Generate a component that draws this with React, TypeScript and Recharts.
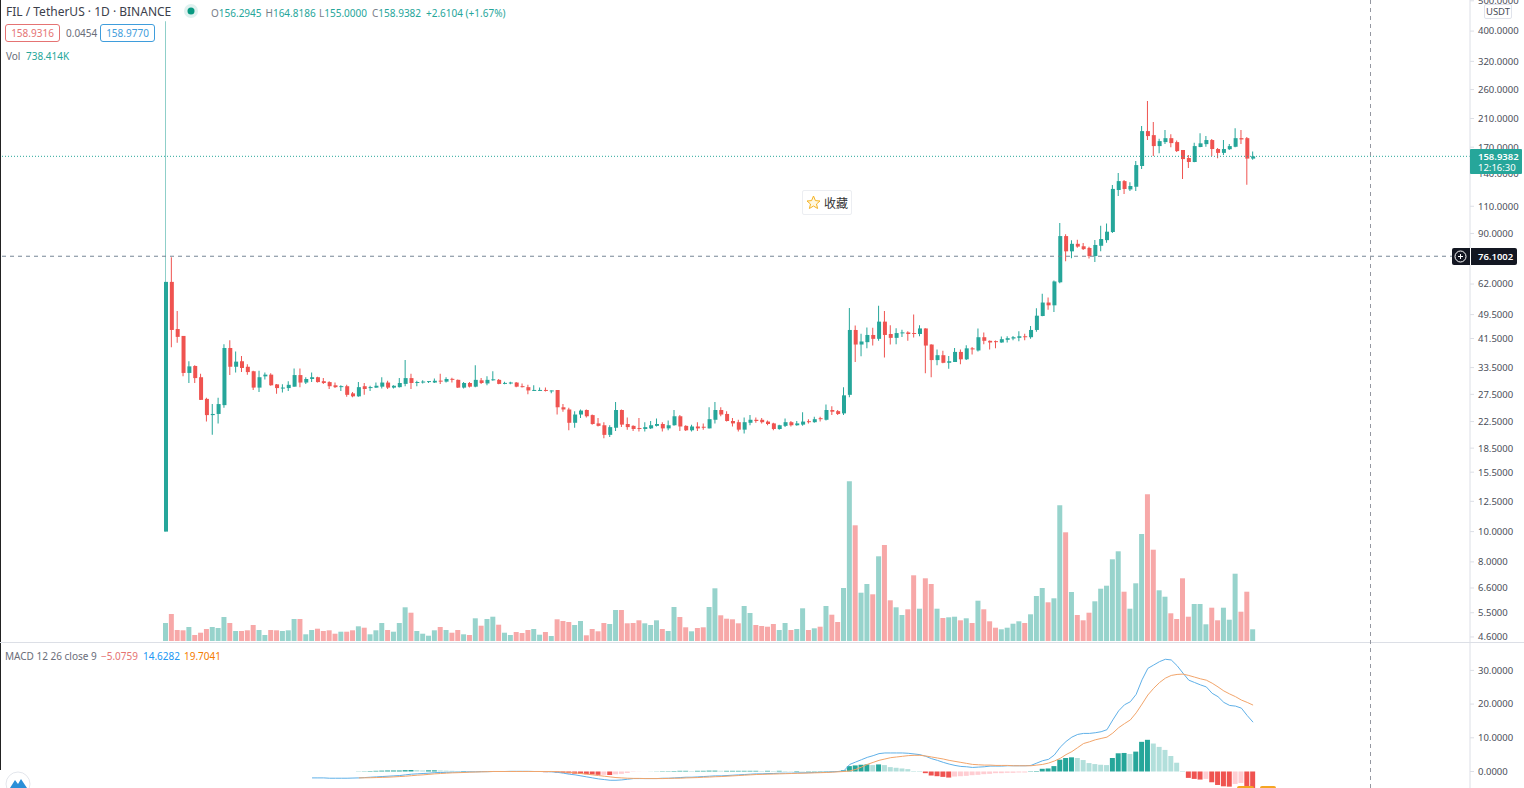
import { Bar, Cell, ComposedChart, Line, ReferenceLine, XAxis, YAxis } from "recharts";

const opens = [
  10,63,44.5,42.3,32.2,33.9,31.2,26.6,23.6,23.8,
  25.4,38.7,33.7,35.1,33.7,32.6,28.9,31.4,31.8,29.6,
  28.7,28.8,29.1,31.7,30,30.8,31.2,30.3,30.1,29.4,
  29,29.2,27.7,27.1,29.2,28.8,28.9,29.1,30,28.9,
  29,29.7,31,29.9,30,30.1,30,30.3,30.2,30.7,
  30.6,28.9,29.9,29.1,30.5,29.8,30.5,30.6,29.7,29.8,
  30,29.2,29,28.2,28.2,28.4,28.1,28.4,25,24.6,
  22.3,23.7,24.5,23.6,22.2,21.9,20.4,21.5,24.5,22.1,
  21.8,21.4,21.3,21.4,21.8,22.1,21.4,21.9,23.4,21.8,
  21.1,21.7,21.6,21.4,22.8,24.5,23.8,22.6,22.4,21.2,
  22.3,22.8,22.8,22.5,22.2,21.3,21.8,22.4,21.9,22,
  22.5,22.4,23,22.8,24.5,24.3,23.9,27.4,44.2,39.7,
  40.4,42.6,41.4,47,42.9,41.7,43.1,43.4,43.1,42.9,
  44.7,39.7,35.4,36.7,34.7,34.9,37.6,35.6,38.6,38,
  41.9,40.8,40.6,40.3,41.1,41.5,41.7,42.2,41.9,44.2,
  49,54.1,53,62.8,88.3,78.9,83.4,81.9,80.9,76.2,
  82.2,85.7,91,124,132.4,124.5,127,148,191.4,185.8,
  171.4,176.5,181.7,176.5,166.5,157,152.4,170.2,173.9,179.2,
  167.7,163,167.5,170.5,181.7,181.7,156.29,
];

const closes = [
  63,44.2,42,32.2,33.8,31,26.4,23.6,23.8,25.6,
  38.7,33.7,35,33.4,32.4,28.9,31.2,31.8,29.4,28.8,
  28.9,29.5,31.7,30,30.8,31.2,30.1,29.9,29.2,29,
  29.2,27.4,27.1,29,28.6,29,29.3,30,28.9,29.3,
  29.9,31,29.9,30.1,30.2,30.2,30.4,30.2,30.8,30.6,
  28.9,29.9,29.1,30.6,29.9,30.6,30.6,29.7,29.9,30,
  29.1,29,28.3,28.4,28.4,28.2,28.3,25,24.6,22.3,
  23.7,24.4,23.4,22.1,21.8,20.4,21.6,24.5,22,21.6,
  21.3,21.3,21.6,21.9,22.1,21.4,21.9,23.4,21.7,21.1,
  21.7,21.4,21.5,22.9,24.5,23.7,22.6,22.2,21.2,22.4,
  22.8,22.6,22.4,22.1,21.3,21.9,22.4,21.9,22.2,22.5,
  22.4,22.9,22.9,24.5,24.2,23.8,27.3,44.2,39.7,40.6,
  42.6,41.4,47,42.6,41.7,43.2,43.4,42.9,42.9,44.7,
  39.4,35.4,36.7,34.7,35.1,37.6,35.6,38.6,38.3,41.9,
  40.8,40.3,40.4,41.3,41.6,41.9,42.2,41.9,44.2,49.1,
  54.1,53,63.2,88.3,78.9,83.4,81.7,80.2,76.2,82.7,
  86.4,91.2,125,132.4,124.9,127.7,149,191.4,184.5,171.4,
  177.8,181.7,175.2,165.2,155.7,152.4,171.4,174.9,179.2,167.7,
  163,167.7,171.4,181.7,180,156.3,158.94,
];

const highs = [
  430,75.5,50.8,42.3,35.1,34.1,32,26.8,25.6,26.8,
  39.8,41,37.7,36.5,34.3,32.7,32.7,32.3,32.1,29.7,
  29.6,30.3,33.3,33.3,31.2,32.3,31.3,31,30.3,30,
  29.4,29.5,28,30.1,29.9,29.3,30,31.2,30.4,29.4,
  31,35.4,32,30.4,30.5,30.3,30.9,32,31.2,31.1,
  30.7,30.1,30.1,34.1,31,31.4,32.6,30.8,30.2,30.2,
  30.1,29.8,29.5,29.4,28.9,28.9,28.3,28.4,25.6,24.9,
  24.3,24.6,24.6,23.7,23.1,22.4,21.9,26,24.6,23.2,
  21.9,23.1,22.4,22.6,23,22.4,22.7,24.5,23.6,21.9,
  22,22.4,22.2,25,26,25,24.3,23.1,22.8,23.2,
  23.6,23.2,23.1,22.7,22.3,22,23,22.6,22.6,24.1,
  22.9,23.3,23.3,25.5,25.2,24.5,29,52,45.7,43,
  45,44.9,52.8,50.8,45.8,44.8,44.3,43.8,49.5,45.8,
  44.8,39.8,38.3,37.9,36.5,38.7,38.3,39.5,39,44.7,
  43.4,40.9,40.9,42.1,42.2,42.3,43.8,43,45.5,51.9,
  57.7,56.1,63.7,97.2,89.5,85.6,86,83.9,81.6,85.7,
  95.2,96.8,128.6,140.5,133.4,131.4,153.5,198.6,238.8,204.6,
  181,192.9,187,178.5,166.6,160.4,175.8,188.5,184.5,180.5,
  169,179.2,174,195.5,192.9,183.2,164.82,
];

const lows = [
  10,38.9,40.2,31.4,29.9,29.9,26.4,22.5,20.4,22.2,
  24.9,31.7,32.3,32.4,31.8,28.4,28,30.7,29.3,27.6,
  27.9,28.2,29.1,29,29.7,30.1,30,29.7,28.6,28.8,
  28.2,27,26.9,27,27.4,28.2,28.8,28.7,28.6,28.7,
  28.9,29.2,28.6,29.2,29.8,29.9,29.9,29.7,30,30,
  28.8,28.7,28.9,29,29.7,29.4,30.4,29.6,29.6,29.6,
  29,28.9,27.5,28.2,28.2,28.1,27.7,23.7,24.2,21.1,
  21.5,23.1,23.2,22,21.7,19.9,20.1,21,21.6,21.2,
  21,20.9,20.9,21.3,21.7,20.9,21.1,21.8,21,21,
  20.9,21,21.2,21.4,22.2,23.4,22.5,21.7,20.9,20.6,
  21.9,22.3,22.2,21.9,21.1,21.2,21.6,21.7,21.8,21.8,
  22.2,22.3,22.5,22.7,23.6,23.6,23.6,26.9,34.9,36.4,
  38.6,39.4,40.8,36.1,39.7,39.8,42,40.8,41.8,42.2,
  32.1,31.2,34.1,34.6,33.2,34.9,34.3,35.4,36.9,37.7,
  39.8,38.3,38.6,40.2,40.3,41,40.7,41,41.4,43.6,
  48.9,51.3,50.5,62.4,73.4,75,81,79.7,74.9,72.9,
  79,84,90.3,118.6,120.3,123,123,144.7,179.2,159.2,
  162.6,173.9,170,164,134.4,145.7,152,170,170.5,159.2,
  156.8,160.4,166.5,170,173.9,128.8,155,
];

// thousands of FIL
const volumes = [
  1134,1701,693,674,882,378,523,756,882,819,
  1512,1134,630,630,674,1008,693,378,693,674,
  630,674,1386,1386,422,693,775,630,674,460,
  586,586,674,926,838,422,674,1134,693,586,
  1134,2123,1783,630,460,334,674,882,693,523,
  693,422,378,1430,964,1386,1531,1027,523,378,
  567,504,693,756,397,567,315,1367,1260,1197,
  1008,1260,359,756,611,1134,1071,1953,1953,1115,
  1134,1304,1115,1008,1304,756,630,2142,1512,863,
  611,819,863,2142,3320,1619,1405,1367,1115,2205,
  1764,1008,945,901,1071,693,1134,693,756,2060,
  693,800,901,2205,1657,1197,3339,10070,7289,3043,
  3591,2942,5336,6048,2564,2123,1638,1997,4139,2035,
  3950,3591,2035,1449,1493,1531,1304,1430,1134,2539,
  1997,1241,838,737,838,1090,1241,1134,1682,2835,
  3339,2438,2690,8549,6848,3087,1638,1304,1783,2501,
  3295,3484,5147,5651,3106,2035,3635,6741,9242,5752,
  3194,2791,1745,1386,3950,1531,2331,2331,1052,2098,
  1304,2098,1342,4240,1846,3106,738,
];

const macdStart = 25;
const macdValues = [
  -1.9,-1.9,-1.9,-2,-2,-2,-2,-1.95,-1.9,
  -1.8,-1.7,-1.6,-1.5,-1.4,-1.3,-1.2,-1,-0.8,-0.7,-0.6,-0.5,-0.35,
  -0.3,-0.25,-0.2,-0.2,-0.15,-0.1,-0.1,-0.05,-0.05,0,0,0,0.05,0.05,
  0.05,0.05,0,0,-0.05,-0.1,-0.25,-0.5,-0.8,-1,-1.3,-1.6,-1.9,-2.2,-2.4,-2.6,
  -2.6,-2.5,-2.3,-2.1,-2.1,-2.1,-2.1,-2.1,-2,-2,-1.9,-1.8,-1.7,-1.7,-1.6,-1.5,
  -1.4,-1.3,-1.3,-1.2,-1.1,-1,-0.9,-0.8,-0.7,-0.7,-0.6,-0.6,-0.5,-0.5,-0.5,-0.4,-0.4,
  -0.35,-0.3,-0.25,-0.2,-0.1,0,
  0.2,2.1,2.8,3.5,4.2,4.7,5.3,5.5,5.5,5.5,
  5.5,5.4,5.2,5,4.5,3.8,3.3,2.7,2.2,1.8,
  1.5,1.4,1.2,1.3,1.4,1.6,1.6,1.6,1.7,1.7,
  1.7,1.7,1.8,2.5,3.2,3.6,4.9,7.2,8.9,10.2,
  11,11.3,11.3,11.5,11.8,12.4,15.3,18,19.8,20.7,
  22.9,27.2,30.6,31.6,32.6,33.3,33.1,31.4,29.2,27.1,
  26.4,25.7,25.1,23.2,22.2,20.5,19.6,19.4,18.8,16.6,14.63,
];

const signalStart = 33;
const signalValues = [
  -1.9,-1.88,-1.85,-1.8,-1.75,-1.7,-1.6,-1.5,-1.4,-1.25,-1.1,-1,-0.85,-0.7,
  -0.6,-0.5,-0.4,-0.35,-0.3,-0.2,-0.15,-0.1,-0.05,0,0,0,0,0,
  0,0,0,0,0,0,-0.05,-0.15,-0.25,-0.4,-0.6,-0.8,-1,-1.2,-1.4,-1.6,
  -1.8,-1.9,-2,-2.05,-2.05,-2.1,-2.1,-2.1,-2.1,-2.05,-2,-2,-1.9,-1.85,-1.8,-1.7,
  -1.65,-1.55,-1.5,-1.4,-1.3,-1.2,-1.1,-1,-0.9,-0.85,-0.8,-0.75,-0.7,-0.65,-0.6,-0.55,-0.5,
  -0.45,-0.4,-0.35,-0.3,-0.2,-0.1,
  0,0.15,0.6,1.3,2.1,2.7,3.3,3.7,4.1,4.3,
  4.5,4.7,4.8,4.8,4.6,4.3,4,3.7,3.3,3,
  2.7,2.4,2.1,2,1.9,1.9,1.8,1.8,1.8,1.7,
  1.7,1.7,1.7,1.9,2.1,2.5,3.1,3.9,5,5.9,
  7.1,8.3,8.8,9.4,9.8,10.2,11.4,13,14.2,15.3,
  17.4,20,22.7,24.7,26.4,27.7,28.5,28.8,28.9,28.5,
  28,27.5,27.1,26.2,25.1,23.9,23,22.2,21.2,20.5,19.7,
];

const histValues = [
  0.05,0.08,0.15,0.2,0.25,0.3,0.3,0.3,0.4,0.45,0.4,0.3,0.35,0.35,
  0.3,0.25,0.2,0.15,0.15,0.1,0.05,0.05,0.05,0.05,0.05,0.05,0.05,
  -0.05,-0.1,-0.1,-0.1,-0.15,-0.2,-0.2,-0.3,-0.4,-0.55,-0.65,
  -0.7,-0.8,-0.9,-1,-1,-1.05,-0.85,-0.7,-0.45,-0.1,-0.05,-0.02,
  0.02,0.05,0.1,0.1,0.15,0.2,0.2,0.15,0.2,0.2,
  0.25,0.25,0.2,0.2,0.2,0.2,0.2,0.2,0.2,
  0.15,0.2,0.15,0.2,0.15,0.1,0.15,0.1,0.1,0.1,0.1,0.1,0.1,0.15,
  0.35,1.6,1.8,2,2.1,1.9,2.1,1.9,1.3,1.1,
  0.9,0.7,0.15,0.14,-0.5,-1.2,-1.4,-1.6,-1.8,-1.5,
  -1.4,-1.3,-1.1,-1,-0.8,-0.7,-0.5,-0.5,-0.4,-0.4,
  -0.3,-0.3,0.1,0.15,0.8,0.9,1.6,3.5,4,4.2,
  4,3.4,2.5,2.2,2,1.9,4,5.4,5.5,5.2,
  5.9,8.8,9.4,8.3,7.3,6.4,4.6,2.6,0.15,-1.9,
  -2.2,-2.4,-2.2,-3.2,-4,-4.4,-4.5,-3.7,-3.4,-4.5,-5.08,
];

const priceTicks = [500,400,320,260,210,170,140,110,90,62,49.5,41.5,33.5,27.5,22.5,18.5,15.5,12.5,10,8,6.6,5.5,4.6];
const macdTicks = [30,20,10,0];
const lastPrice = 158.9382;
const crosshairPrice = 76.1002;

const UP = "#26a69a";
const DOWN = "#ef5350";
const AXIS = "#dcdfe6";
const TEXT = "#4a4e59";
const MUTED = "#6a6e79";
const FONT = "'Noto Sans', sans-serif";

const data = opens.map((open, i) => {
  const close = closes[i];
  const histIdx = i - signalStart;
  return {
    day: i,
    up: close >= open,
    wick: [lows[i], highs[i]],
    body: [Math.min(open, close), Math.max(open, close)],
    volume: volumes[i],
    macd: i >= macdStart ? macdValues[i - macdStart] : null,
    signal: i >= signalStart ? signalValues[histIdx] : null,
    hist: i >= signalStart ? histValues[histIdx] : null,
  };
});

const histColor = (i: number) => {
  const h = data[i].hist;
  if (h === null) return "transparent";
  const prev = i > signalStart ? (data[i - 1].hist as number) : 0;
  if (h >= 0) return h >= prev ? UP : "#b2dfdb";
  return h < prev ? DOWN : "#ffcdd2";
};

const xPad = { left: 163, right: 214 };
const tickStyle = { fontSize: 9.5, fill: TEXT, fontFamily: FONT };
const fmt = (v: number) => v.toFixed(4);

const Txt = ({ x, y, color = TEXT, size = 10, weight = 400, children }: any) => (
  <div
    style={{
      position: "absolute",
      left: x,
      top: y,
      color,
      fontSize: size,
      fontWeight: weight,
      fontFamily: FONT,
      lineHeight: "14px",
      whiteSpace: "nowrap",
    }}
  >
    {children}
  </div>
);

const Boxed = ({ x, w, color, children }: any) => (
  <div
    style={{
      position: "absolute",
      left: x,
      top: 24,
      width: w,
      height: 18,
      boxSizing: "border-box",
      border: `1px solid ${color}`,
      borderRadius: 3,
      color,
      fontSize: 10,
      lineHeight: "16px",
      textAlign: "center",
      fontFamily: FONT,
      background: "#fff",
    }}
  >
    {children}
  </div>
);

const Ohlc = ({ x, label, value }: any) => (
  <Txt x={x} y={6} color="#7a7e89">
    {label}
    <span style={{ color: UP }}>{value}</span>
  </Txt>
);

const layer: any = { position: "absolute", left: 0 };

export default function App() {
  return (
    <div style={{ position: "absolute", left: 0, top: 0, width: 1524, height: 788, overflow: "hidden", background: "#fff" }}>
      {/* volume pane sits under the candles */}
      <div style={{ ...layer, top: 0 }}>
        <ComposedChart width={1524} height={641} data={data} margin={{ top: 0, right: 54, bottom: 0, left: 0 }}>
          <XAxis dataKey="day" hide padding={xPad} />
          <YAxis hide domain={[0, 40383]} />
          <Bar dataKey="volume" barSize={5} isAnimationActive={false}>
            {data.map((d) => (
              <Cell key={d.day} fill={d.up ? "#97d3cc" : "#f7a8a8"} />
            ))}
          </Bar>
        </ComposedChart>
      </div>

      <div style={{ ...layer, top: 0 }}>
        <ComposedChart width={1524} height={643} data={data} margin={{ top: 0, right: 0, bottom: 0, left: 0 }}>
          <XAxis xAxisId="wick" dataKey="day" hide padding={xPad} />
          <XAxis xAxisId="body" dataKey="day" hide padding={xPad} />
          <YAxis
            orientation="right"
            width={54}
            scale="log"
            domain={[4.4, 503]}
            allowDataOverflow
            ticks={priceTicks}
            interval={0}
            tickFormatter={fmt}
            tick={tickStyle}
            tickSize={4}
            tickMargin={4}
            stroke={AXIS}
          />
          <ReferenceLine xAxisId="wick" y={lastPrice} stroke={UP} strokeDasharray="1 2" />
          <ReferenceLine xAxisId="wick" y={crosshairPrice} stroke="#758696" strokeDasharray="4 4" />
          <Bar xAxisId="wick" dataKey="wick" barSize={1} isAnimationActive={false}>
            {data.map((d) => (
              <Cell key={d.day} fill={d.day === 0 ? "#8fcfc9" : d.up ? UP : DOWN} />
            ))}
          </Bar>
          <Bar xAxisId="body" dataKey="body" barSize={4} minPointSize={1} isAnimationActive={false}>
            {data.map((d) => (
              <Cell key={d.day} fill={d.up ? UP : DOWN} />
            ))}
          </Bar>
        </ComposedChart>
      </div>

      <div style={{ ...layer, top: 643 }}>
        <ComposedChart width={1524} height={145} data={data} margin={{ top: 0, right: 0, bottom: 0, left: 0 }}>
          <XAxis dataKey="day" hide padding={xPad} />
          <YAxis
            orientation="right"
            width={54}
            domain={[-4.9, 38.13]}
            allowDataOverflow
            ticks={macdTicks}
            interval={0}
            tickFormatter={fmt}
            tick={tickStyle}
            tickSize={4}
            tickMargin={4}
            stroke={AXIS}
          />
          <Bar dataKey="hist" barSize={5} isAnimationActive={false}>
            {data.map((d, i) => (
              <Cell key={d.day} fill={histColor(i)} />
            ))}
          </Bar>
          <Line dataKey="macd" stroke="#5fb0e8" strokeWidth={1} dot={false} isAnimationActive={false} />
          <Line dataKey="signal" stroke="#f2a56b" strokeWidth={1} dot={false} isAnimationActive={false} />
        </ComposedChart>
      </div>

      {/* frame, crosshair and chrome */}
      <svg width={1524} height={788} style={{ position: "absolute", left: 0, top: 0 }}>
        <line x1={0.5} y1={0} x2={0.5} y2={770} stroke="#222" />
        <line x1={0} y1={642.5} x2={1524} y2={642.5} stroke={AXIS} />
        <line x1={1370.5} y1={0} x2={1370.5} y2={788} stroke="#9598a1" strokeDasharray="4 4" />
        <circle cx={18} cy={784} r={12} fill="#fff" stroke="#e3e6ec" />
        <path d="M10 788 L15 780 L18 784 L21 779 L27 788 Z" fill="#2a8fd8" />
        <rect x={1237} y={786} width={17} height={4} rx={2} fill="#f5a623" />
        <rect x={1260} y={786} width={16} height={4} rx={2} fill="#f5a623" />
        <circle cx={191} cy={11} r={7} fill="#dff1ef" />
        <circle cx={191} cy={11} r={3.5} fill="#089981" />
        <rect x={1470} y={149} width={52} height={25} rx={1} fill={UP} />
        <rect x={1452} y={248} width={65} height={17} rx={2} fill="#131722" />
        <line x1={1470.5} y1={248} x2={1470.5} y2={265} stroke="#fff" />
        <circle cx={1460.5} cy={256.5} r={5.5} fill="none" stroke="#fff" />
        <path d="M1458 256.5 H1463 M1460.5 254 V259" stroke="#fff" />
      </svg>

      <Txt x={6} y={5} size={12} color="#3c404b">FIL / TetherUS · 1D · BINANCE</Txt>
      <Ohlc x={211} label="O" value="156.2945" />
      <Ohlc x={265.5} label="H" value="164.8186" />
      <Ohlc x={319} label="L" value="155.0000" />
      <Ohlc x={372} label="C" value="158.9382" />
      <Txt x={426} y={6} color={UP}>+2.6104 (+1.67%)</Txt>
      <Boxed x={5} w={55} color="#e57373">158.9316</Boxed>
      <Txt x={66} y={26} color={MUTED}>0.0454</Txt>
      <Boxed x={100} w={55} color="#3f9ddc">158.9770</Boxed>
      <Txt x={6} y={49} color={MUTED}>Vol <span style={{ color: UP, marginLeft: 3 }}>738.414K</span></Txt>
      <Txt x={5} y={649} color={MUTED}>MACD 12 26 close 9</Txt>
      <Txt x={101} y={649} color="#e57373">−5.0759</Txt>
      <Txt x={143} y={649} color="#2196f3">14.6282</Txt>
      <Txt x={184} y={649} color="#f57c00">19.7041</Txt>

      <Txt x={1478} y={150} color="#fff" size={9.5} weight={600}>158.9382</Txt>
      <Txt x={1478} y={161} color="#fff" size={9.5}>12:16:30</Txt>
      <Txt x={1478} y={250} color="#fff" size={9.5} weight={600}>76.1002</Txt>

      <div
        style={{
          position: "absolute", left: 1484, top: 4, width: 28, height: 15, boxSizing: "border-box",
          border: "1px solid #e0e3eb", borderRadius: 2, background: "#fff", color: TEXT,
          fontSize: 9.5, lineHeight: "13px", textAlign: "center", fontFamily: FONT,
        }}
      >
        USDT
      </div>

      <div
        style={{
          position: "absolute", left: 802, top: 190, width: 50, height: 25, boxSizing: "border-box",
          border: "1px solid #eceef2", borderRadius: 2, background: "#fff", color: "#333",
          fontSize: 12, lineHeight: "23px", paddingLeft: 21, fontFamily: "'Noto Sans CJK SC', sans-serif",
        }}
      >
        收藏
      </div>
      <svg width={16} height={16} style={{ position: "absolute", left: 805, top: 194 }}>
        <polygon
          points="8.5,2 10.4,6.6 15,7 11.5,10 12.6,14.5 8.5,12 4.4,14.5 5.5,10 2,7 6.6,6.6"
          fill="#fff8e1"
          stroke="#f5b324"
        />
      </svg>
    </div>
  );
}
